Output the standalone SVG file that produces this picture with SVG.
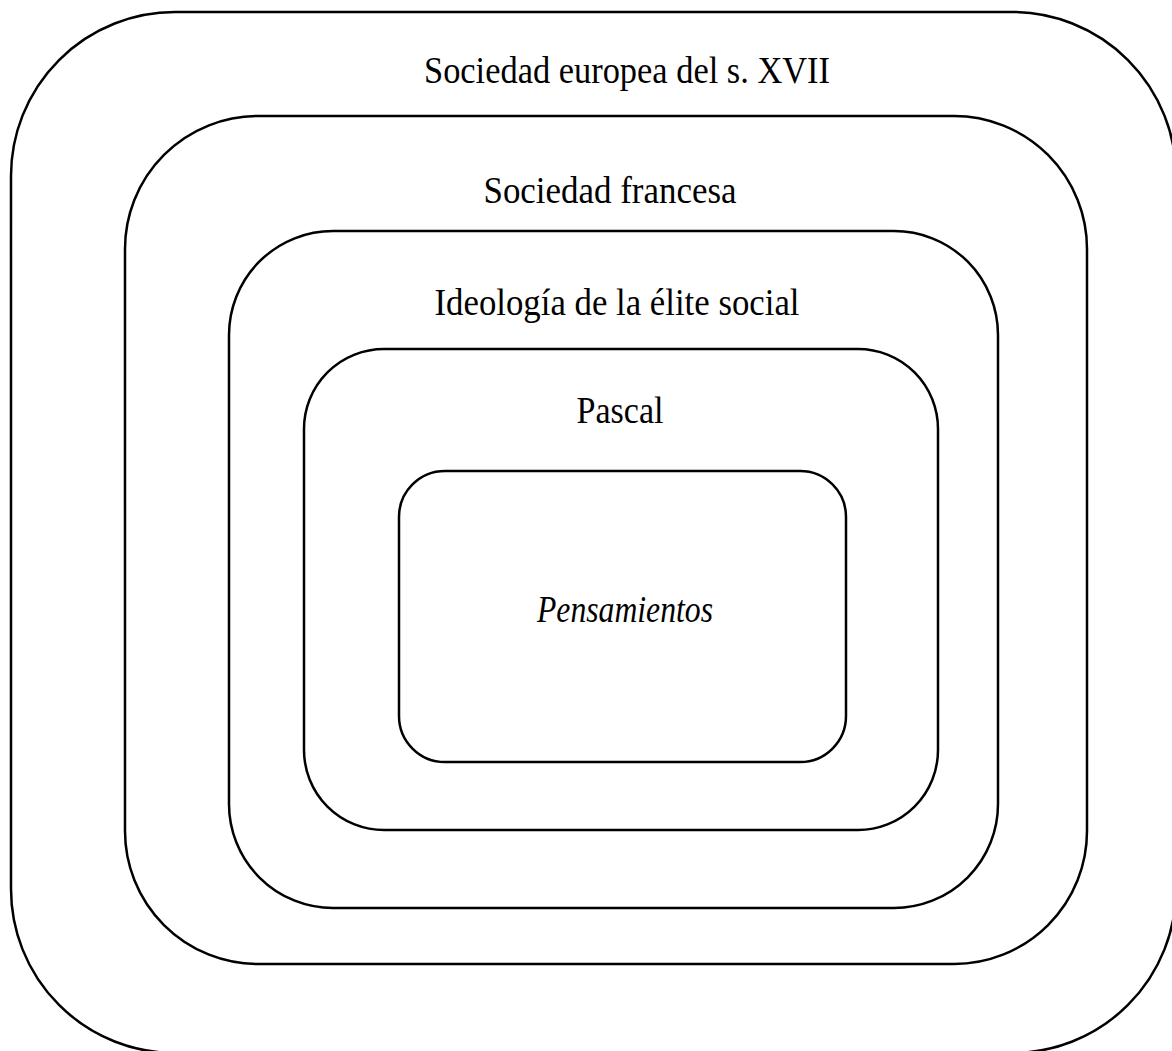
<svg xmlns="http://www.w3.org/2000/svg" width="1172" height="1051" viewBox="0 0 1172 1051">
<style>
.box{fill:none;stroke:#000;stroke-width:2.5}
.lbl{font-family:"Liberation Serif","DejaVu Serif",serif;font-size:38px;fill:#000;text-anchor:middle}
.it{font-style:italic}
</style>
<rect width="1172" height="1051" fill="#fff"/>
<g id="n1">
<rect class="box" x="11" y="12" width="1165" height="1041" rx="164" ry="164"/>
<text class="lbl" x="627" y="83" textLength="406" lengthAdjust="spacingAndGlyphs">Sociedad europea del s. XVII</text>
</g>
<g id="n2">
<rect class="box" x="125" y="116" width="962" height="848" rx="133" ry="133"/>
<text class="lbl" x="610" y="203" textLength="253" lengthAdjust="spacingAndGlyphs">Sociedad francesa</text>
</g>
<g id="n3">
<rect class="box" x="229" y="231" width="769" height="677" rx="104" ry="104"/>
<text class="lbl" x="617" y="315" textLength="365" lengthAdjust="spacingAndGlyphs">Ideología de la élite social</text>
</g>
<g id="n4">
<rect class="box" x="304" y="349" width="634" height="481" rx="80" ry="80"/>
<text class="lbl" x="620" y="423" textLength="87" lengthAdjust="spacingAndGlyphs">Pascal</text>
</g>
<g id="n5">
<rect class="box" x="399" y="471" width="447" height="291" rx="46" ry="46"/>
<text class="lbl it" x="625" y="622" textLength="176" lengthAdjust="spacingAndGlyphs">Pensamientos</text>
</g>
<g id="connectors"/>
</svg>
